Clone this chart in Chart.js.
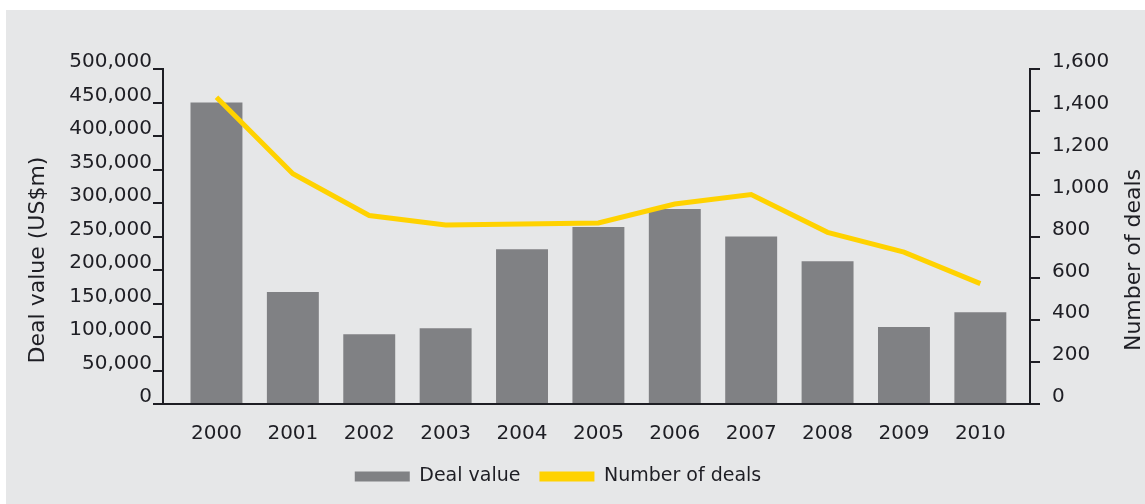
<!DOCTYPE html>
<html>
<head>
<meta charset="utf-8">
<script src="https://cdn.jsdelivr.net/npm/chart.js@4/dist/chart.umd.min.js"></script>
<style>
  html, body { margin: 0; padding: 0; background: #fff; }
  #wrap { position: absolute; left: 6px; top: 10px; width: 1139px; height: 494px; background: #e6e7e8; }
</style>
</head>
<body>
<div id="wrap"><canvas id="dealChart" width="1139" height="494"></canvas></div>
<script>
const years = ['2000', '2001', '2002', '2003', '2004', '2005', '2006', '2007', '2008', '2009', '2010'];
const dealValue = [450000, 167000, 104000, 113000, 231000, 264000, 291000, 250000, 213000, 115000, 137000];
const dealCount = [1465, 1100, 900, 855, 860, 865, 955, 1000, 820, 725, 575];
const leftTitle = 'Deal value (US$m)';
const rightTitle = 'Number of deals';

const barColor = '#808184';
const lineColor = '#ffd200';
const inkColor = '#1e1e24';
const fontFamily = '"DejaVu Sans", Verdana, sans-serif';

// axis titles both read bottom-to-top, so draw them here
const axisTitles = {
  id: 'axisTitles',
  afterDraw(chart) {
    const ctx = chart.ctx;
    ctx.save();
    ctx.fillStyle = inkColor;
    ctx.font = '22px ' + fontFamily;
    ctx.textAlign = 'center';
    ctx.textBaseline = 'middle';
    [[32, leftTitle], [1128, rightTitle]].forEach(([x, text]) => {
      ctx.save();
      ctx.translate(x, 250);
      ctx.rotate(-Math.PI / 2);
      ctx.fillText(text, 0, 0);
      ctx.restore();
    });
    ctx.restore();
  }
};

const ctx = document.getElementById('dealChart').getContext('2d');
new Chart(ctx, {
  data: {
    labels: years,
    datasets: [
      {
        type: 'bar',
        label: 'Deal value',
        data: dealValue,
        backgroundColor: barColor,
        yAxisID: 'y',
        categoryPercentage: 1,
        barPercentage: 0.68,
        order: 1
      },
      {
        type: 'line',
        label: 'Number of deals',
        data: dealCount,
        borderColor: lineColor,
        backgroundColor: lineColor,
        borderWidth: 5,
        pointRadius: 0,
        tension: 0,
        yAxisID: 'y1',
        order: 0
      }
    ]
  },
  options: {
    responsive: false,
    animation: false,
    layout: { padding: { top: 59, left: 0, right: 35, bottom: 8 } },
    plugins: {
      tooltip: { enabled: false },
      legend: {
        position: 'bottom',
        labels: {
          color: inkColor,
          font: { family: fontFamily, size: 19 },
          boxWidth: 55,
          boxHeight: 10,
          padding: 19,
          sort: (a, b) => a.datasetIndex - b.datasetIndex,
          generateLabels: chart => Chart.defaults.plugins.legend.labels.generateLabels(chart).map(item => {
            item.fillStyle = item.datasetIndex === 0 ? barColor : lineColor;
            item.lineWidth = 0;
            return item;
          })
        }
      }
    },
    scales: {
      x: {
        type: 'linear',
        min: 1999.3,
        max: 2010.65,
        offset: false,
        grid: { display: false },
        border: { color: inkColor, width: 2 },
        afterBuildTicks: s => { s.ticks = years.map(y => ({ value: Number(y) })); },
        ticks: {
          padding: 10,
          maxRotation: 0,
          autoSkip: false,
          color: inkColor,
          font: { family: fontFamily, size: 20 },
          callback: (v, i) => years[i]
        },
        afterFit: s => { s.height = 44; }
      },
      y: {
        position: 'left',
        min: 0,
        max: 500000,
        grid: { drawOnChartArea: false, tickLength: 10, color: inkColor, lineWidth: 2 },
        border: { color: inkColor, width: 2 },
        ticks: {
          stepSize: 50000,
          padding: 1,
          labelOffset: -7,
          color: inkColor,
          font: { family: fontFamily, size: 20 },
          callback: v => v.toLocaleString('en-US')
        },
        afterFit: s => { s.width = 157; }
      },
      y1: {
        position: 'right',
        min: 0,
        max: 1600,
        grid: { drawOnChartArea: false, tickLength: 10, color: inkColor, lineWidth: 2 },
        border: { color: inkColor, width: 2 },
        ticks: {
          stepSize: 200,
          padding: 12,
          labelOffset: -7,
          color: inkColor,
          font: { family: fontFamily, size: 20 },
          callback: v => v.toLocaleString('en-US')
        },
        afterFit: s => { s.width = 80; }
      }
    }
  },
  plugins: [axisTitles]
});
</script>
</body>
</html>
